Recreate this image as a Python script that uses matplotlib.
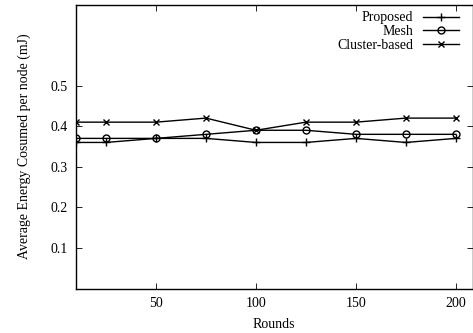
import matplotlib
matplotlib.use("Agg")
import matplotlib.pyplot as plt

rounds = [10, 25, 50, 75, 100, 125, 150, 175, 200]
proposed = [0.36, 0.36, 0.37, 0.37, 0.36, 0.36, 0.37, 0.36, 0.37]
mesh = [0.37, 0.37, 0.37, 0.38, 0.39, 0.39, 0.38, 0.38, 0.38]
cluster = [0.41, 0.41, 0.41, 0.42, 0.39, 0.41, 0.41, 0.42, 0.42]
xticks = [50, 100, 150, 200]
yticks = [0.1, 0.2, 0.3, 0.4, 0.5]

plt.rcParams['font.family'] = ['Liberation Serif', 'DejaVu Serif']
plt.rcParams['font.size'] = 10

fig = plt.figure(figsize=(4.73, 3.33), dpi=100)
ax = fig.add_axes([76/473, 1-288.5/333, (472.5-76)/473, (288.5-4.5)/333])

kw = dict(color='black', lw=1.0, markeredgewidth=1.0)
ax.plot(rounds, proposed, marker='+', markersize=6, label='Proposed', **kw)
ax.plot(rounds, mesh, marker='o', markersize=5, markerfacecolor='none', label='Mesh', **kw)
ax.plot(rounds, cluster, marker='x', markersize=5, label='Cluster-based', **kw)

ax.set_xlim(10, 208.3)
ax.set_ylim(0, 0.7)
ax.set_xticks(xticks)
ax.set_yticks(yticks)
ax.tick_params(direction='in', top=True, right=True, length=4, width=0.6,
               labelsize=10, pad=6)
for s in ax.spines.values():
    s.set_linewidth(1.0)

ax.set_xlabel('Rounds', fontsize=10, labelpad=6)
ax.set_ylabel('Average Energy Cosumed per node (mJ)', fontsize=10, labelpad=14)

leg = ax.legend(loc='upper right', bbox_to_anchor=(0.99, 1.01), frameon=False,
                markerfirst=False, handlelength=2.6, labelspacing=0.05,
                borderpad=0.2, handletextpad=0.7, fontsize=10)
for t in leg.get_texts():
    t.set_ha('right')
leg._legend_box.align = 'right'

fig.savefig('out.png', dpi=100)
